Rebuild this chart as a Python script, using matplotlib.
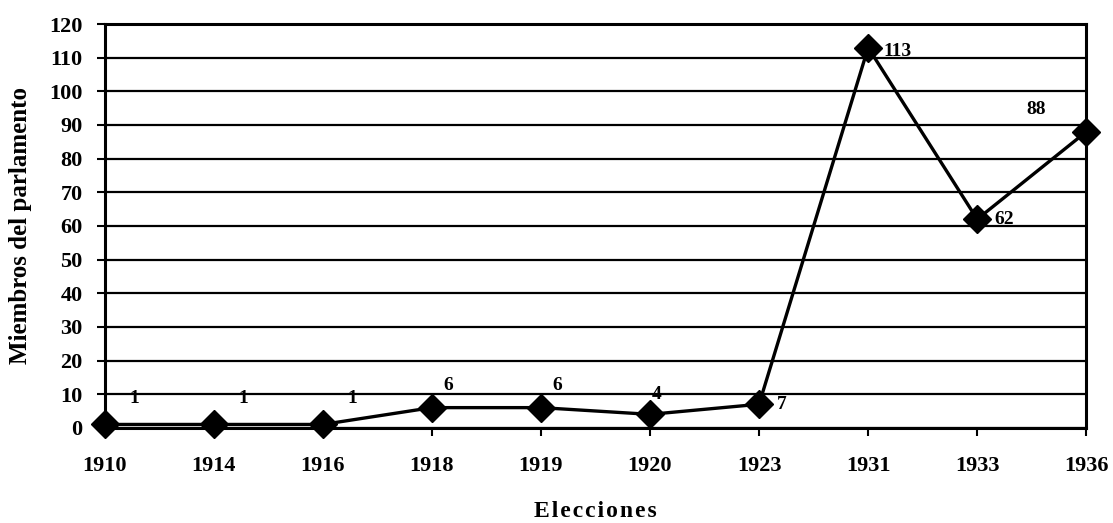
import matplotlib.pyplot as plt

years = ['1910', '1914', '1916', '1918', '1919', '1920', '1923', '1931', '1933', '1936']
members = [1, 1, 1, 6, 6, 4, 7, 113, 62, 88]
# label offsets in points (dx, dy)
label_offsets = [(18, 19), (18, 19), (18, 19), (8, 16), (8, 16), (1, 14),
                 (13, 0), (11, -3), (12, 0), (-36, 16)]

plt.rcParams['font.family'] = ['Liberation Serif', 'DejaVu Serif']
plt.rcParams['font.weight'] = 'bold'

fig = plt.figure(figsize=(11.13, 5.23), dpi=100)
ax = fig.add_axes([0.094, 0.182, 0.882, 0.772])

x = list(range(len(years)))
ax.plot(x, members, color='black', linewidth=2.4, marker='D',
        markersize=14, markerfacecolor='black', markeredgecolor='black',
        clip_on=False, zorder=3)

for xi, v, (dx, dy) in zip(x, members, label_offsets):
    ax.annotate(str(v), (xi, v), xytext=(dx, dy), textcoords='offset points',
                ha='left' if dx >= 0 else 'center', va='center', fontsize=14,
                fontweight='bold')

ax.set_xlim(0, len(years) - 1)
ax.set_ylim(0, 120)
ax.set_yticks(range(0, 121, 10))
ax.set_xticks(x)
ax.set_xticklabels(years)
ax.tick_params(axis='both', labelsize=16, width=1.5, length=6, direction='out')
ax.tick_params(axis='x', pad=14)
ax.tick_params(axis='y', pad=10)
ax.yaxis.grid(True, color='black', linewidth=1.6)
ax.set_axisbelow(True)
for s in ax.spines.values():
    s.set_linewidth(2.2)

ax.set_ylabel('Miembros del parlamento', fontsize=18, fontweight='bold',
              labelpad=12)
ax.set_xlabel('E l e c c i o n e s'.replace(' ', '\u200a'), fontsize=17,
              fontweight='bold', labelpad=18)

plt.savefig('out.png', dpi=100)
plt.close(fig)
